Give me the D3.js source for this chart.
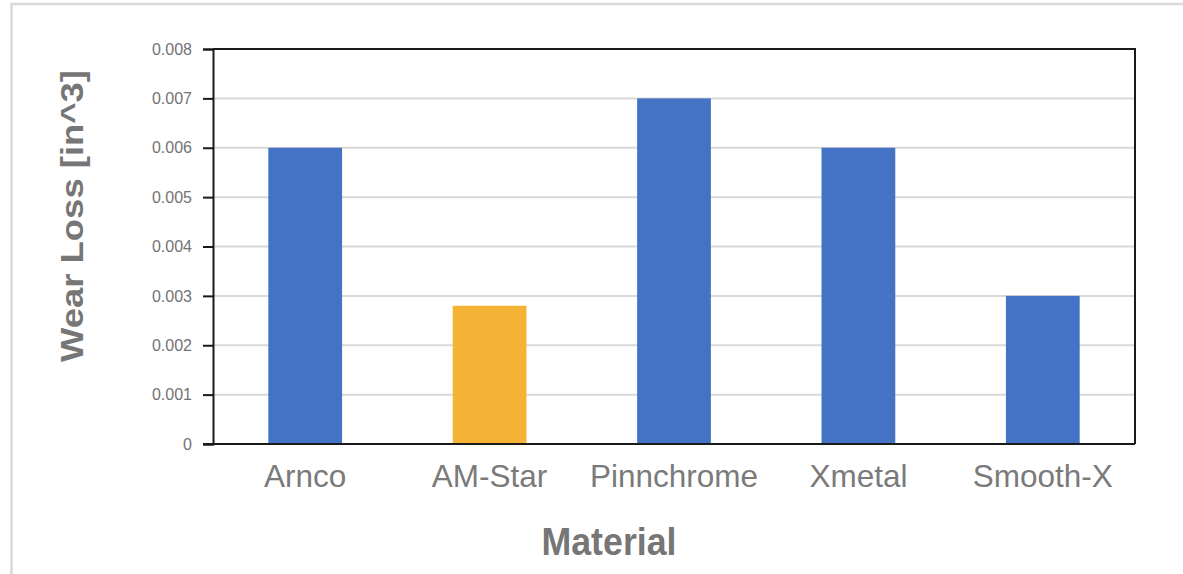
<!DOCTYPE html>
<html>
<head>
<meta charset="utf-8">
<script src="https://cdn.jsdelivr.net/npm/d3@7"></script>
<style>
  html, body { margin: 0; padding: 0; background: #fff; }
  svg { display: block; font-family: "Liberation Sans", Arial, sans-serif; }
</style>
</head>
<body>
<svg id="chart" width="1183" height="574"></svg>
<script>
// ---- Data ----
const categories = ["Arnco", "AM-Star", "Pinnchrome", "Xmetal", "Smooth-X"];
const wearLoss = [0.006, 0.0028, 0.007, 0.006, 0.003];
const barColors = ["#4472C4", "#F4B335", "#4472C4", "#4472C4", "#4472C4"];
const yTicks = [0, 0.001, 0.002, 0.003, 0.004, 0.005, 0.006, 0.007, 0.008];
const yTickLabels = ["0", "0.001", "0.002", "0.003", "0.004", "0.005", "0.006", "0.007", "0.008"];
const xTitle = "Material";
const yTitle = "Wear Loss [in^3]";

// ---- Layout ----
const svg = d3.select("#chart");
const plot = { left: 213, right: 1135, top: 49, bottom: 444 };

// outer chart border (light grey)
svg.append("rect")
  .attr("x", 11.5).attr("y", 4)
  .attr("width", 1200).attr("height", 600)
  .attr("fill", "none").attr("stroke", "#d9d9d9").attr("stroke-width", 2.5);

const x = d3.scaleBand().domain(categories).range([plot.left, plot.right]).paddingInner(0.6).paddingOuter(0.3);
const y = d3.scaleLinear().domain([0, 0.008]).range([plot.bottom, plot.top]);

// gridlines
svg.append("g").selectAll("line").data(yTicks.slice(1, -1)).join("line")
  .attr("x1", plot.left).attr("x2", plot.right)
  .attr("y1", d => y(d)).attr("y2", d => y(d))
  .attr("stroke", "#d9d9d9").attr("stroke-width", 2);

// bars
svg.append("g").selectAll("rect").data(categories).join("rect")
  .attr("x", d => x(d))
  .attr("width", x.bandwidth())
  .attr("y", (d, i) => y(wearLoss[i]))
  .attr("height", (d, i) => y(0) - y(wearLoss[i]))
  .attr("fill", (d, i) => barColors[i]);

// plot frame (top & right)
svg.append("path")
  .attr("d", `M${plot.left},${plot.top}H${plot.right}V${plot.bottom}`)
  .attr("fill", "none").attr("stroke", "#1a1a1a").attr("stroke-width", 2);

// y axis
const yAxis = d3.axisLeft(y).tickValues(yTicks)
  .tickFormat((d, i) => yTickLabels[i]).tickSize(10).tickPadding(11);
const gy = svg.append("g").attr("transform", `translate(${plot.left},0)`).call(yAxis);
gy.select(".domain").attr("stroke", "#1a1a1a").attr("stroke-width", 2);
gy.selectAll(".tick line").attr("stroke", "#1a1a1a").attr("stroke-width", 2);
gy.selectAll(".tick text").attr("fill", "#737373")
  .style("font-size", "16px").style("font-family", "'Liberation Sans', Arial, sans-serif");

// x axis
const xAxis = d3.axisBottom(x).tickSize(0).tickPadding(20);
const gx = svg.append("g").attr("transform", `translate(0,${plot.bottom})`).call(xAxis);
gx.select(".domain").attr("d", `M${plot.left - 10},0H${plot.right}`)
  .attr("stroke", "#1a1a1a").attr("stroke-width", 2);
gx.selectAll(".tick text").attr("fill", "#7a7a7a")
  .attr("dy", null).attr("y", 43)
  .style("font-size", "31.5px").style("font-family", "'Liberation Sans', Arial, sans-serif");

// axis titles
svg.append("text")
  .attr("x", 609).attr("y", 555)
  .attr("text-anchor", "middle")
  .attr("fill", "#767676")
  .attr("font-weight", "bold")
  .attr("font-size", 39)
  .attr("textLength", 135).attr("lengthAdjust", "spacingAndGlyphs")
  .text(xTitle);

svg.append("text")
  .attr("transform", "translate(83,216) rotate(-90)")
  .attr("text-anchor", "middle")
  .attr("fill", "#767676")
  .attr("font-weight", "bold")
  .attr("font-size", 32)
  .attr("textLength", 292).attr("lengthAdjust", "spacingAndGlyphs")
  .text(yTitle);
</script>
</body>
</html>
